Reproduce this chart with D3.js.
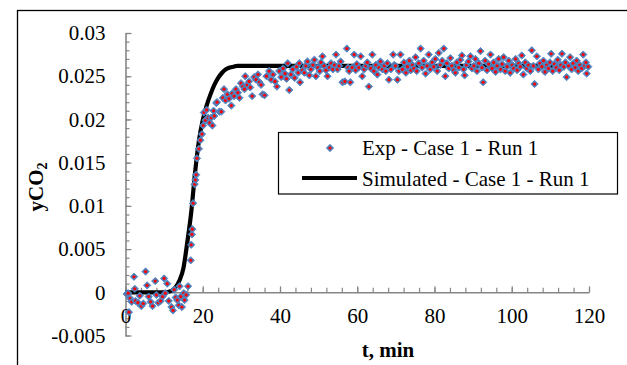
<!DOCTYPE html>
<html><head><meta charset="utf-8">
<script src="https://cdn.jsdelivr.net/npm/d3@7"></script>
<style>body{margin:0;background:#fff}svg{display:block}
svg text{font-family:"Liberation Serif","Times New Roman","DejaVu Serif",serif !important;}</style>
</head><body>
<svg id="chart" width="627" height="365"></svg>
<script>
const yTicks = [-0.005,0,0.005,0.01,0.015,0.02,0.025,0.03];
const yTickLabels = ["-0.005","0","0.005","0.01","0.015","0.02","0.025","0.03"];
const xTicks = [0,20,40,60,80,100,120];
const xTickLabels = ["0","20","40","60","80","100","120"];
const seriesNames = ["Exp - Case 1 - Run 1","Simulated - Case 1 - Run 1"];
const xTitle = "t, min";

const simTime = [0,10,12,13,14,15,16,17,18,19,20,21,22,23,24,25,26,27,28,29,30,120];
const simYCO2 = [0,0,0.0002,0.0006,0.0014,0.0028,0.0058,0.0092,0.0138,0.0175,0.0199,0.0216,0.0229,0.0240,0.0248,0.0254,0.0258,0.0260,0.0261,0.0262,0.0262,0.0262];

const expTime = [
0.3,0.7,0.9,1.2,1.6,2.2,2.4,2.6,3.2,3.7,
4.1,4.6,5.2,5.6,6.0,6.5,7.0,7.7,8.0,8.5,
9.1,9.6,10.0,10.3,10.8,11.2,11.9,12.3,12.6,13.0,
13.4,13.8,14.0,14.3,14.6,15.1,15.3,15.7,16.2,16.9,
17.0,17.2,17.3,17.5,17.9,18.1,18.3,18.5,19.0,19.4,
19.8,20.1,20.3,20.7,21.0,21.4,21.8,22.2,22.5,22.8,
23.0,23.5,23.7,24.3,24.8,25.2,25.5,25.9,26.4,26.8,
27.4,27.6,28.1,28.6,29.1,29.5,29.9,30.4,30.8,31.0,
31.5,32.0,32.3,32.8,33.3,33.8,34.3,34.7,35.1,35.5,
36.0,36.5,37.2,37.7,38.2,38.7,39.2,39.8,40.3,40.8,
41.3,41.7,42.0,42.4,42.8,43.3,43.8,44.3,44.7,45.0,
45.2,45.8,46.3,46.7,47.1,47.6,48.0,48.5,48.9,49.3,
49.8,50.3,50.6,51.0,51.4,51.9,52.3,52.8,53.2,53.7,
54.1,54.5,54.9,55.3,55.7,56.2,56.8,57.3,57.6,57.9,
58.2,58.7,59.2,59.6,59.9,60.4,60.9,61.3,61.8,62.2,
62.6,63.0,63.5,63.9,64.3,64.8,65.2,65.6,66.0,66.5,
67.0,67.4,67.8,68.2,68.7,69.3,69.6,69.9,70.4,70.8,
71.2,71.7,
72.1,72.6,73.0,73.5,73.9,74.3,74.7,75.1,75.4,75.9,
76.4,76.8,77.2,77.7,78.1,78.5,78.9,79.4,79.8,80.2,
80.7,81.1,81.5,82.0,82.4,82.8,83.2,83.7,84.1,84.5,
85.0,85.4,85.8,86.3,86.7,87.1,87.5,87.8,88.3,88.8,
89.3,89.7,90.2,90.6,91.0,91.5,91.9,92.3,92.6,93.1,
93.6,94.0,94.5,94.9,95.3,95.8,96.2,96.6,97.1,97.5,
97.9,98.3,98.8,99.2,99.6,100.1,100.5,101.0,101.4,101.8,
102.2,102.6,103.0,103.5,103.9,104.3,104.8,105.2,105.6,105.9,
106.5,106.9,107.3,107.8,108.2,108.6,109.1,109.5,109.9,110.2,
110.6,111.0,111.5,111.9,112.3,112.7,113.0,113.5,113.9,114.2,
114.7,115.1,115.5,115.9,116.4,116.8,117.2,117.6,118.1,118.5,
118.9,119.2,119.4,119.8
];
const expYCO2 = [
-0.0002,-0.0001,-0.0023,-0.0007,-0.0011,0.0018,0.0004,-0.0010,-0.0012,-0.0004,
-0.0016,-0.0013,0.0024,0.0008,-0.0005,-0.0011,-0.0016,0.0013,-0.0003,-0.0012,
-0.0010,-0.0005,0.0016,-0.0001,0.0010,-0.0010,-0.0017,-0.0021,0.0003,-0.0006,
-0.0009,-0.0015,0.0007,-0.0005,-0.0017,-0.0001,-0.0009,-0.0003,0.0007,0.0037,
0.0055,0.0067,0.0073,0.0103,0.0125,0.0130,0.0136,0.0155,0.0166,0.0176,
0.0183,0.0193,0.0208,0.0199,0.0211,0.0202,0.0196,0.0202,0.0193,0.0210,
0.0204,0.0219,0.0220,0.0209,0.0209,0.0225,0.0235,0.0222,0.0229,0.0224,
0.0216,0.0230,0.0227,0.0235,0.0231,0.0225,0.0242,0.0238,0.0235,0.0250,
0.0240,0.0244,0.0237,0.0227,0.0249,0.0246,0.0252,0.0243,0.0240,0.0229,
0.0228,0.0250,0.0256,0.0246,0.0252,0.0244,0.0238,0.0256,0.0249,0.0259,
0.0253,0.0247,0.0265,0.0234,0.0252,0.0258,0.0248,0.0261,0.0254,0.0265,
0.0243,0.0257,0.0254,0.0262,0.0267,0.0251,0.0258,0.0263,0.0269,0.0250,
0.0260,0.0256,0.0266,0.0273,0.0262,0.0257,0.0250,0.0260,0.0265,0.0258,
0.0263,0.0275,0.0258,0.0262,0.0267,0.0243,0.0244,0.0282,0.0260,0.0256,
0.0243,0.0260,0.0275,0.0257,0.0264,0.0260,0.0273,0.0250,0.0258,0.0262,
0.0266,0.0238,0.0259,0.0275,0.0256,0.0263,0.0252,0.0260,0.0267,0.0258,
0.0262,0.0256,0.0265,0.0246,0.0258,0.0275,0.0263,0.0262,0.0246,0.0256,
0.0275,0.0258,
0.0266,0.0254,0.0261,0.0268,0.0257,0.0263,0.0259,0.0272,0.0256,0.0265,
0.0282,0.0260,0.0268,0.0253,0.0262,0.0275,0.0258,0.0266,0.0261,0.0270,
0.0256,0.0277,0.0263,0.0268,0.0282,0.0250,0.0265,0.0259,0.0271,0.0262,
0.0257,0.0254,0.0266,0.0260,0.0269,0.0274,0.0258,0.0251,0.0263,0.0267,
0.0273,0.0259,0.0262,0.0270,0.0256,0.0265,0.0279,0.0260,0.0243,0.0268,
0.0257,0.0264,0.0275,0.0259,0.0266,0.0255,0.0262,0.0270,0.0258,0.0264,
0.0272,0.0256,0.0261,0.0268,0.0254,0.0263,0.0259,0.0270,0.0257,0.0265,
0.0261,0.0274,0.0252,0.0266,0.0259,0.0263,0.0256,0.0280,0.0262,0.0241,
0.0273,0.0258,0.0265,0.0261,0.0268,0.0255,0.0263,0.0259,0.0266,0.0276,
0.0256,0.0264,0.0260,0.0269,0.0257,0.0263,0.0276,0.0261,0.0266,0.0249,
0.0262,0.0272,0.0258,0.0265,0.0260,0.0268,0.0256,0.0263,0.0259,0.0275,
0.0262,0.0266,0.0253,0.0261
];

const FONT = "Liberation Serif";
const FS = 21;
const AXIS_COLOR = "#868686";
const BLUE = "#4F81BD";
const RED = "#FF0000";

const svg = d3.select("#chart");
svg.append("rect").attr("width",627).attr("height",365).attr("fill","#fff");
// outer chart frame (cut by the image edge on right/bottom)
svg.append("rect").attr("x",17.5).attr("y",10.5).attr("width",800).attr("height",600)
  .attr("fill","none").attr("stroke","#000").attr("stroke-width",1.3);

const x = d3.scaleLinear().domain([0,120]).range([125.5,589]);
const y = d3.scaleLinear().domain([-0.005,0.03]).range([335.5,33]);

// Y axis minor ticks
const yMinor = d3.range(-5,31).map(i=>i/1000);
svg.append("g").attr("transform",`translate(${x(0)},0)`)
  .call(d3.axisLeft(y).tickValues(yMinor).tickSize(-4).tickSizeOuter(0).tickFormat(""))
  .call(g=>g.select(".domain").remove())
  .call(g=>g.selectAll("line").attr("stroke",AXIS_COLOR).attr("stroke-width",1.2));
// Y axis major
svg.append("g").attr("transform",`translate(${x(0)},0)`)
  .call(d3.axisLeft(y).tickValues(yTicks).tickSize(-6).tickSizeOuter(0).tickPadding(20)
     .tickFormat((d,i)=>yTickLabels[i]))
  .call(g=>g.attr("font-family",FONT).attr("font-size",FS))
  .call(g=>g.select(".domain").attr("stroke",AXIS_COLOR).attr("stroke-width",1.6))
  .call(g=>g.selectAll("line").attr("stroke",AXIS_COLOR).attr("stroke-width",1.2))
  .call(g=>g.selectAll("text").attr("fill","#000"));

// X axis minor
const xMinor = d3.range(0,31).map(i=>i*4);
svg.append("g").attr("transform",`translate(0,${y(0)})`)
  .call(d3.axisBottom(x).tickValues(xMinor).tickSize(-4.5).tickSizeOuter(0).tickFormat(""))
  .call(g=>g.select(".domain").remove())
  .call(g=>g.selectAll("line").attr("stroke",AXIS_COLOR).attr("stroke-width",1.2));
// X axis major
svg.append("g").attr("transform",`translate(0,${y(0)})`)
  .call(d3.axisBottom(x).tickValues(xTicks).tickSize(-6).tickSizeOuter(0).tickPadding(15.6)
     .tickFormat((d,i)=>xTickLabels[i]))
  .call(g=>g.attr("font-family",FONT).attr("font-size",FS))
  .call(g=>g.select(".domain").attr("stroke",AXIS_COLOR).attr("stroke-width",1.6))
  .call(g=>g.selectAll("line").attr("stroke",AXIS_COLOR).attr("stroke-width",1.2))
  .call(g=>g.selectAll("text").attr("fill","#000"));

// Simulated line
const simData = simTime.map((t,i)=>({t, v:simYCO2[i]}));
svg.append("path").datum(simData)
  .attr("d", d3.line().x(d=>x(d.t)).y(d=>y(d.v)).curve(d3.curveMonotoneX))
  .attr("fill","none").attr("stroke","#000").attr("stroke-width",4.2).attr("stroke-linejoin","round");

// Experimental markers
const expData = expTime.map((t,i)=>({t, v:expYCO2[i]}));
const diamond = d3.symbol().type(d3.symbolSquare).size(27)();
const mk = svg.append("g").selectAll("g").data(expData).join("g")
  .attr("transform", d=>`translate(${x(d.t)},${y(d.v)})`);
mk.append("path").attr("d",diamond).attr("transform","rotate(45)")
  .attr("fill",BLUE).attr("stroke",BLUE).attr("stroke-width",0.8);
mk.append("circle").attr("r",1.6).attr("fill",RED);

// Legend
const lg = svg.append("g").attr("font-family",FONT).attr("font-size",FS);
lg.append("rect").attr("x",278.5).attr("y",132.5).attr("width",339).attr("height",61.5)
  .attr("fill","#fff").attr("stroke","#000").attr("stroke-width",1.2);
const m1 = lg.append("g").attr("transform","translate(330,148)");
m1.append("path").attr("d",diamond).attr("transform","rotate(45)")
  .attr("fill",BLUE).attr("stroke",BLUE).attr("stroke-width",0.8);
m1.append("circle").attr("r",1.6).attr("fill",RED);
lg.append("text").attr("x",362).attr("y",155).text(seriesNames[0]);
lg.append("line").attr("x1",302).attr("x2",357).attr("y1",178).attr("y2",178)
  .attr("stroke","#000").attr("stroke-width",4.2);
lg.append("text").attr("x",362).attr("y",186).text(seriesNames[1]);

// Axis titles
svg.append("text").attr("x",388).attr("y",357).attr("text-anchor","middle")
  .attr("font-family",FONT).attr("font-size",FS).attr("font-weight","bold").text(xTitle);
const yt = svg.append("text").attr("transform","translate(43,187) rotate(-90)")
  .attr("text-anchor","middle").attr("font-family",FONT).attr("font-size",FS).attr("font-weight","bold");
yt.append("tspan").text("yCO");
yt.append("tspan").attr("font-size",14).attr("dy",4).text("2");
</script>
</body></html>
